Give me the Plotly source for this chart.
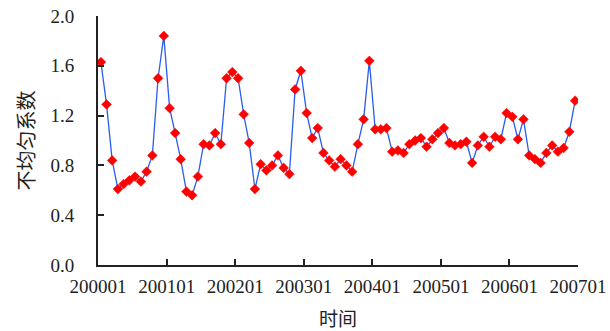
import plotly.graph_objects as go

# months 2000-01 .. 2006-12
months = [f"{y}-{m:02d}" for y in range(2000, 2007) for m in range(1, 13)]

values = [
    1.63, 1.29, 0.84, 0.61, 0.65, 0.68, 0.71, 0.67, 0.75, 0.88, 1.50, 1.84,
    1.26, 1.06, 0.85, 0.59, 0.56, 0.71, 0.97, 0.96, 1.06, 0.97, 1.50, 1.55,
    1.50, 1.21, 0.98, 0.61, 0.81, 0.76, 0.80, 0.88, 0.78, 0.73, 1.41, 1.56,
    1.22, 1.02, 1.10, 0.90, 0.84, 0.79, 0.85, 0.80, 0.75, 0.97, 1.17, 1.64,
    1.09, 1.09, 1.10, 0.91, 0.92, 0.90, 0.97, 1.00, 1.02, 0.95, 1.01, 1.06,
    1.10, 0.98, 0.96, 0.97, 0.99, 0.82, 0.96, 1.03, 0.95, 1.03, 1.01, 1.22,
    1.19, 1.01, 1.17, 0.88, 0.85, 0.82, 0.90, 0.96, 0.91, 0.94, 1.07, 1.32,
]

y_ticks = [0.0, 0.4, 0.8, 1.2, 1.6, 2.0]
y_tick_labels = ["0.0", "0.4", "0.8", "1.2", "1.6", "2.0"]
x_tick_labels = ["200001", "200101", "200201", "200301", "200401", "200501", "200601", "200701"]
x_tick_dates = [f"{lab[:4]}-{lab[4:]}-01" for lab in x_tick_labels]

fig = go.Figure()
fig.add_trace(go.Scatter(
    x=months, y=values, mode="lines+markers",
    xperiod="M1", xperiodalignment="middle",
    line=dict(color="#2a5cf0", width=1.3),
    marker=dict(symbol="diamond", size=7.5, color="#ff0000",
                line=dict(color="#ff0000", width=0.5)),
    hoverinfo="x+y",
))

serif = "Liberation Serif, Times New Roman, serif"
cjk = "Noto Sans CJK SC"
fig.update_layout(
    width=610, height=331,
    margin=dict(l=98, r=32, t=16, b=66),
    paper_bgcolor="white", plot_bgcolor="white",
    showlegend=False,
    font=dict(family=serif, size=19, color="#222"),
    xaxis=dict(
        type="date", automargin=False,
        range=["2000-01-01", "2007-01-01"],
        tickmode="array", tickvals=x_tick_dates, ticktext=x_tick_labels,
        ticks="inside", ticklen=6, tickwidth=1.5, tickcolor="#222",
        showline=True, linecolor="#222", linewidth=2,
        showgrid=False, zeroline=False,
        ticklabelstandoff=3,
        tickfont=dict(family=serif, size=19, color="#222"),
        title=dict(text="时间", font=dict(family=cjk, size=19, color="#222"), standoff=18),
    ),
    yaxis=dict(
        range=[0, 2.0], automargin=False,
        tickmode="array", tickvals=y_ticks, ticktext=y_tick_labels,
        ticks="inside", ticklen=6, tickwidth=1.5, tickcolor="#222",
        showline=True, linecolor="#222", linewidth=2,
        showgrid=False, zeroline=False,
        ticklabelstandoff=18,
        tickfont=dict(family=serif, size=19, color="#222"),
        title=dict(text="不均匀系数", font=dict(family=cjk, size=20, color="#222"), standoff=10),
    ),
)

fig.write_html("out.html", config={"displayModeBar": False},
               post_script="document.body.style.margin='0';")
